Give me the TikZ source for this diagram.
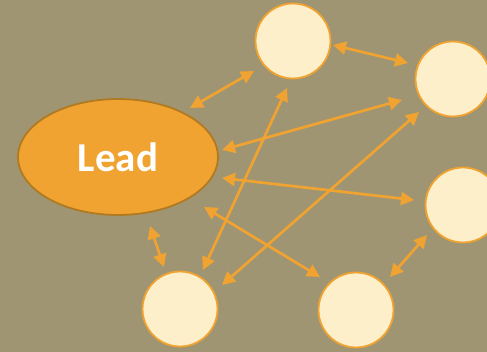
\documentclass[tikz,border=0pt]{standalone}
\usepackage{fontspec}
\setmainfont{Carlito}
\usetikzlibrary{arrows.meta,shapes.geometric}
\definecolor{bgc}{HTML}{A09572}
\definecolor{org}{HTML}{F0A330}
\definecolor{orgd}{HTML}{B07A22}
\definecolor{cream}{HTML}{FCEFC9}
\begin{document}
\begin{tikzpicture}[x=1pt,y=-1pt,
  lead/.style={ellipse,fill=org,draw=orgd,line width=1.8pt,minimum width=200pt,minimum height=116pt,inner sep=0pt,text=white,font=\fontsize{41}{44}\selectfont\bfseries},
  member/.style={circle,fill=cream,draw=org,line width=1.8pt,minimum size=75pt,inner sep=0pt},
  link/.style={draw=org,line width=2.7pt,{Triangle[length=13pt,width=13pt]}-{Triangle[length=13pt,width=13pt]}}]
\fill[bgc] (0,0) rectangle (487,352);
\useasboundingbox (0,0) rectangle (487,352);
\node[lead] (L) at (118,157) {Lead};
\node[member] (T) at (293,41) {};
\node[member] (RT) at (453,79) {};
\node[member] (R) at (463,205) {};
\node[member] (BM) at (356,310) {};
\node[member] (BL) at (180,309) {};
% connector ends
\coordinate (a1) at (190,108); \coordinate (a2) at (254,71);
\coordinate (b1) at (333,45);  \coordinate (b2) at (408,63);
\coordinate (c1) at (222,150); \coordinate (c2) at (402,100);
\coordinate (d1) at (203,270); \coordinate (d2) at (287,88);
\coordinate (e1) at (222,285); \coordinate (e2) at (419,112);
\coordinate (f1) at (222,178); \coordinate (f2) at (414,200);
\coordinate (g1) at (204,207); \coordinate (g2) at (320,277);
\coordinate (h1) at (150,226); \coordinate (h2) at (164,267);
\coordinate (i1) at (427,235); \coordinate (i2) at (390,277);
\draw[link] (a1) -- (a2);
\draw[link] (b1) -- (b2);
\draw[link] (c1) -- (c2);
\draw[link] (d1) -- (d2);
\draw[link] (e1) -- (e2);
\draw[link] (f1) -- (f2);
\draw[link] (g1) -- (g2);
\draw[link] (h1) -- (h2);
\draw[link] (i1) -- (i2);
\end{tikzpicture}
\end{document}
